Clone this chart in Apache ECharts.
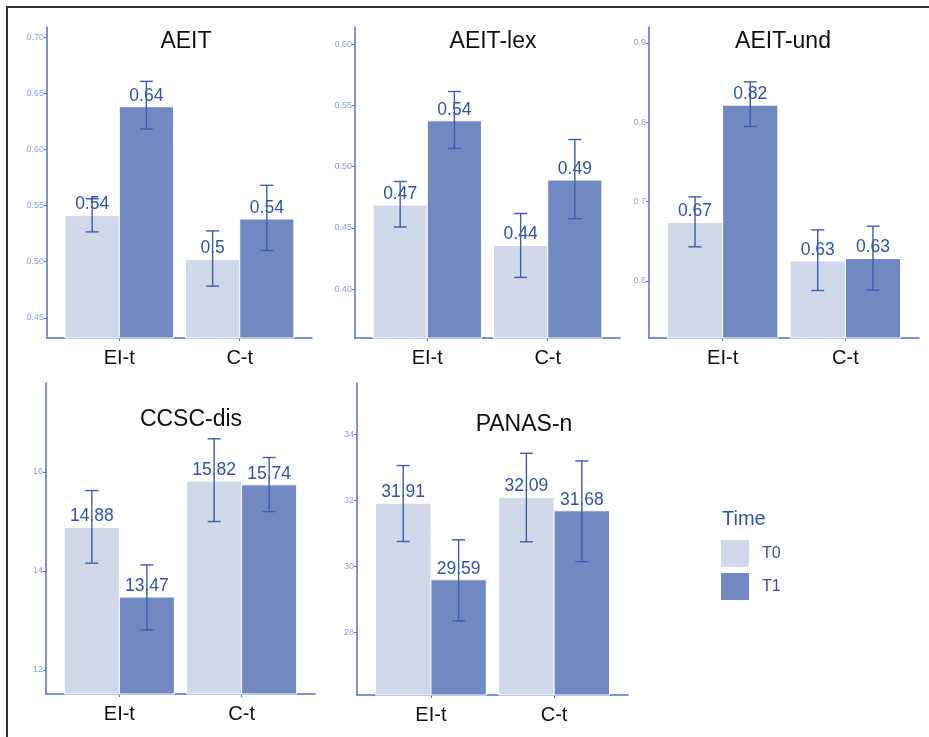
<!DOCTYPE html>
<html>
<head>
<meta charset="utf-8">
<script src="https://cdn.jsdelivr.net/npm/echarts@6/dist/echarts.min.js"></script>
<style>
html,body{margin:0;padding:0;background:#fff;}
#chart{width:929px;height:737px;}
</style>
</head>
<body>
<div id="chart"></div>
<script>
// ---------- data ----------
const categories = ['EI-t', 'C-t'];
const timeNames = ['T0', 'T1'];

// AEIT
const aeitT0 = [0.541, 0.502];
const aeitT1 = [0.638, 0.538];
const aeitT0Low = [0.5265, 0.4782];
const aeitT0High = [0.556, 0.5274];
const aeitT1Low = [0.6181, 0.5099];
const aeitT1High = [0.6606, 0.568];
const aeitTicks = [0.45, 0.50, 0.55, 0.60, 0.65, 0.70];
const aeitTickLabels = ['0.45', '0.50', '0.55', '0.60', '0.65', '0.70'];

// AEIT-lex
const lexT0 = [0.4686, 0.4355];
const lexT1 = [0.5374, 0.489];
const lexT0Low = [0.4506, 0.4095];
const lexT0High = [0.4878, 0.4617];
const lexT1Low = [0.5148, 0.4574];
const lexT1High = [0.5613, 0.5221];
const lexTicks = [0.40, 0.45, 0.50, 0.55, 0.60];
const lexTickLabels = ['0.40', '0.45', '0.50', '0.55', '0.60'];

// AEIT-und
const undT0 = [0.6736, 0.6252];
const undT1 = [0.8215, 0.6282];
const undT0Low = [0.6429, 0.5879];
const undT0High = [0.7059, 0.6643];
const undT1Low = [0.7946, 0.5883];
const undT1High = [0.8509, 0.6689];
const undTicks = [0.6, 0.7, 0.8, 0.9];
const undTickLabels = ['0.6', '0.7', '0.8', '0.9'];

// CCSC-dis
const ccscT0 = [14.88, 15.82];
const ccscT1 = [13.47, 15.74];
const ccscT0Low = [14.156, 14.998];
const ccscT0High = [15.625, 16.672];
const ccscT1Low = [12.806, 15.2];
const ccscT1High = [14.12, 16.293];
const ccscTicks = [12, 14, 16];
const ccscTickLabels = ['12', '14', '16'];

// PANAS-n
const panasT0 = [31.91, 32.09];
const panasT1 = [29.59, 31.68];
const panasT0Low = [30.75, 30.74];
const panasT0High = [33.05, 33.42];
const panasT1Low = [28.34, 30.14];
const panasT1High = [30.8, 33.19];
const panasTicks = [28, 30, 32, 34];
const panasTickLabels = ['28', '30', '32', '34'];

// ---------- layout / styles ----------
const C_T0 = '#d0d8ea';
const C_T1 = '#7189c0';
const C_ERR = '#3c5db2';
const C_LBL = '#2e55a8';
const C_AXIS = '#5171c4';
const C_TICKLBL = '#8ea2d9';
const FONT = '"Liberation Sans", Arial, sans-serif';

const panels = [
  {title: 'AEIT', tx: 186, ty: 42, grid: {left: 47, top: 27, width: 265, height: 311}, min: 0.432, max: 0.709,
   t0: aeitT0, t1: aeitT1, t0lo: aeitT0Low, t0hi: aeitT0High, t1lo: aeitT1Low, t1hi: aeitT1High, ticks: aeitTicks, tickLabels: aeitTickLabels},
  {title: 'AEIT-lex', tx: 493, ty: 42, grid: {left: 355, top: 27, width: 265, height: 311}, min: 0.360, max: 0.614,
   t0: lexT0, t1: lexT1, t0lo: lexT0Low, t0hi: lexT0High, t1lo: lexT1Low, t1hi: lexT1High, ticks: lexTicks, tickLabels: lexTickLabels},
  {title: 'AEIT-und', tx: 783, ty: 42, grid: {left: 649, top: 27, width: 270, height: 311}, min: 0.528, max: 0.920,
   t0: undT0, t1: undT1, t0lo: undT0Low, t0hi: undT0High, t1lo: undT1Low, t1hi: undT1High, ticks: undTicks, tickLabels: undTickLabels},
  {title: 'CCSC-dis', tx: 191, ty: 420, grid: {left: 46, top: 383, width: 269, height: 311}, min: 11.51, max: 17.80,
   t0: ccscT0, t1: ccscT1, t0lo: ccscT0Low, t0hi: ccscT0High, t1lo: ccscT1Low, t1hi: ccscT1High, ticks: ccscTicks, tickLabels: ccscTickLabels},
  {title: 'PANAS-n', tx: 524, ty: 425, grid: {left: 357, top: 383, width: 271, height: 312}, min: 26.1, max: 35.55,
   t0: panasT0, t1: panasT1, t0lo: panasT0Low, t0hi: panasT0High, t1lo: panasT1Low, t1hi: panasT1High, ticks: panasTicks, tickLabels: panasTickLabels}
];

const BAR_W = 0.45;

function fmtVal(v) { return String(Number(v.toFixed(2))); }

function barSeries(pi, name, vals, side, color, ymin) {
  return {
    type: 'custom', name: name, xAxisIndex: pi, yAxisIndex: pi, z: 2,
    itemStyle: {color: color},
    encode: {x: 0, y: 1},
    data: vals.map((v, i) => [i + 1, v]),
    renderItem: function (params, api) {
      const x = api.value(0), y = api.value(1);
      const xa = side < 0 ? x - BAR_W : x;
      const xb = side < 0 ? x : x + BAR_W;
      const p0 = api.coord([xa, y]);
      const p1 = api.coord([xb, ymin]);
      return {
        type: 'group',
        children: [
          {type: 'rect', shape: {x: p0[0], y: p0[1], width: p1[0] - p0[0], height: p1[1] - p0[1]},
           style: {fill: color, stroke: '#ffffff', lineWidth: 1}},
          {type: 'text', x: (p0[0] + p1[0]) / 2, y: p0[1] - 2, z2: 5,
           style: {text: fmtVal(y), fill: C_LBL, font: '17.5px ' + FONT, align: 'center', verticalAlign: 'bottom'}}
        ]
      };
    }
  };
}

function errSeries(pi, name, lows, highs, side) {
  return {
    type: 'custom', name: name, xAxisIndex: pi, yAxisIndex: pi, z: 5, silent: true,
    itemStyle: {color: C_ERR},
    encode: {x: 0, y: [1, 2]},
    data: lows.map((lo, i) => [i + 1, lo, highs[i]]),
    renderItem: function (params, api) {
      const xc = api.value(0) + side * BAR_W / 2;
      const pl = api.coord([xc, api.value(1)]);
      const ph = api.coord([xc, api.value(2)]);
      const cw = 6.5;
      const st = {stroke: C_ERR, lineWidth: 1.4};
      return {
        type: 'group',
        children: [
          {type: 'line', shape: {x1: pl[0], y1: pl[1], x2: ph[0], y2: ph[1]}, style: st},
          {type: 'line', shape: {x1: pl[0] - cw, y1: pl[1], x2: pl[0] + cw, y2: pl[1]}, style: st},
          {type: 'line', shape: {x1: ph[0] - cw, y1: ph[1], x2: ph[0] + cw, y2: ph[1]}, style: st}
        ]
      };
    }
  };
}

const grids = [], xAxes = [], yAxes = [], series = [], graphics = [];
panels.forEach((p, pi) => {
  grids.push(Object.assign({containLabel: false}, p.grid));
  xAxes.push({
    type: 'value', gridIndex: pi, min: 0.4, max: 2.6,
    axisLine: {show: true, onZero: false, lineStyle: {color: C_AXIS, width: 1.5}},
    axisTick: {show: true, length: 3, customValues: [1, 2], lineStyle: {color: C_AXIS}},
    axisLabel: {show: true, customValues: [1, 2], margin: 10, color: '#111', fontSize: 20, fontFamily: FONT,
                formatter: v => categories[Math.round(v) - 1] || ''},
    splitLine: {show: false}
  });
  yAxes.push({
    type: 'value', gridIndex: pi, min: p.min, max: p.max,
    axisLine: {show: true, onZero: false, lineStyle: {color: C_AXIS, width: 1.5}},
    axisTick: {show: true, length: 3, customValues: p.ticks, lineStyle: {color: C_AXIS}},
    axisLabel: {show: true, customValues: p.ticks, margin: 3, color: C_TICKLBL, fontSize: 9, fontFamily: FONT,
                formatter: v => { const k = p.ticks.findIndex(t => Math.abs(t - v) < 1e-9); return k >= 0 ? p.tickLabels[k] : ''; }},
    splitLine: {show: false}
  });
  series.push(barSeries(pi, timeNames[0], p.t0, -1, C_T0, p.min));
  series.push(barSeries(pi, timeNames[1], p.t1, 1, C_T1, p.min));
  series.push(errSeries(pi, 'err' + pi + 'a', p.t0lo, p.t0hi, -1));
  series.push(errSeries(pi, 'err' + pi + 'b', p.t1lo, p.t1hi, 1));
  graphics.push({type: 'text', x: p.tx, y: p.ty, z: 10,
    style: {text: p.title, fill: '#111', font: '23px ' + FONT, align: 'center', verticalAlign: 'middle'}});
});

graphics.push({type: 'text', x: 722, y: 519, style: {text: 'Time', fill: C_LBL, font: '20px ' + FONT, align: 'left', verticalAlign: 'middle'}});
graphics.push({type: 'line', shape: {x1: 6, y1: 7, x2: 929, y2: 7}, style: {stroke: '#333', lineWidth: 2}});
graphics.push({type: 'line', shape: {x1: 7, y1: 6, x2: 7, y2: 737}, style: {stroke: '#333', lineWidth: 2}});

const chart = echarts.init(document.getElementById('chart'), null, {renderer: 'canvas'});
chart.setOption({
  animation: false,
  backgroundColor: '#ffffff',
  grid: grids,
  xAxis: xAxes,
  yAxis: yAxes,
  legend: {
    data: [{name: 'T0', icon: 'rect'}, {name: 'T1', icon: 'rect'}],
    orient: 'vertical', left: 721, top: 540, padding: 0,
    itemWidth: 28, itemHeight: 27, itemGap: 6, selectedMode: false,
    textStyle: {color: C_LBL, fontSize: 16, fontFamily: FONT, padding: [0, 0, 0, 8]}
  },
  graphic: graphics,
  series: series
});
</script>
</body>
</html>
